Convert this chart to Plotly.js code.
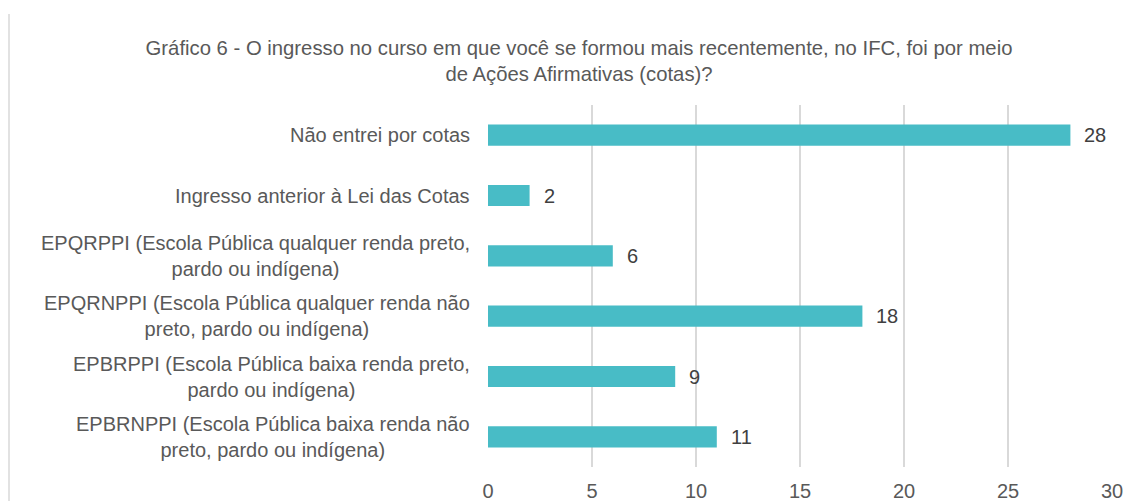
<!DOCTYPE html>
<html><head><meta charset="utf-8">
<script src="https://cdn.plot.ly/plotly-3.0.1.min.js"></script>
<style>html,body{margin:0;padding:0;background:#fff;}</style>
</head><body>
<div id="chart" style="width:1135px;height:501px;"></div>
<script>
const categories = [
  "Não entrei por cotas",
  "Ingresso anterior à Lei das Cotas",
  "EPQRPPI (Escola Pública qualquer renda preto,<br>pardo ou indígena)",
  "EPQRNPPI (Escola Pública qualquer renda não<br>preto, pardo ou indígena)",
  "EPBRPPI (Escola Pública baixa renda preto,<br>pardo ou indígena)",
  "EPBRNPPI (Escola Pública baixa renda não<br>preto, pardo ou indígena)"
];
const values = [28, 2, 6, 18, 9, 11];
const xTicks = [0, 5, 10, 15, 20, 25, 30];

const FONT = "'Liberation Sans', Arial, sans-serif";
const L = 488, R = 23, T = 105, B = 34, W = 1135, H = 501;
const pw = W - L - R;
const ph = H - T - B;

const trace = {
  type: 'bar', orientation: 'h',
  x: values, y: categories,
  marker: {color: '#48BCC6'},
  width: 0.35,
  hoverinfo: 'none'
};

const labelAnn = categories.map(c => ({
  x: -16 / pw, xref: 'paper', xanchor: 'right',
  y: c, yref: 'y', yanchor: 'middle',
  text: c, showarrow: false, align: 'center',
  font: {family: FONT, size: 20, color: '#595959'}
}));

const valueAnn = categories.map((c, i) => ({
  x: values[i], xref: 'x', xanchor: 'left', xshift: 12,
  y: c, yref: 'y', yanchor: 'middle',
  text: String(values[i]), showarrow: false,
  font: {family: FONT, size: 20, color: '#404040'}
}));

const layout = {
  width: W, height: H,
  margin: {l: L, r: R, t: T, b: B},
  paper_bgcolor: '#fff', plot_bgcolor: '#fff',
  font: {family: FONT, color: '#595959', size: 20},
  title: {
    text: 'Gráfico 6 - O ingresso no curso em que você se formou mais recentemente, no IFC, foi por meio<br>de Ações Afirmativas (cotas)?',
    x: 579 / W, xanchor: 'center', y: 1 - 55 / H, yanchor: 'middle',
    font: {family: FONT, size: 20.3, color: '#595959'}
  },
  xaxis: {
    range: [0, 30], tickvals: xTicks, ticktext: xTicks.map(String),
    showgrid: true, gridcolor: '#d9d9d9', gridwidth: 1.5,
    zeroline: false, showline: false, ticks: '',
    ticklabelstandoff: 10,
    tickfont: {family: FONT, size: 20, color: '#595959'},
    fixedrange: true
  },
  yaxis: {
    type: 'category', autorange: 'reversed',
    categoryorder: 'array', categoryarray: categories,
    showticklabels: false, showgrid: false, zeroline: false, ticks: '',
    fixedrange: true
  },
  annotations: labelAnn.concat(valueAnn),
  shapes: [{
    type: 'line', xref: 'paper', yref: 'paper',
    x0: (9 - L) / pw, x1: (9 - L) / pw,
    y0: (H - B - 14) / ph, y1: -B / ph,
    line: {color: '#d9d9d9', width: 1.5}
  }],
  showlegend: false
};

Plotly.newPlot('chart', [trace], layout, {displayModeBar: false, staticPlot: true});
</script>
</body></html>
